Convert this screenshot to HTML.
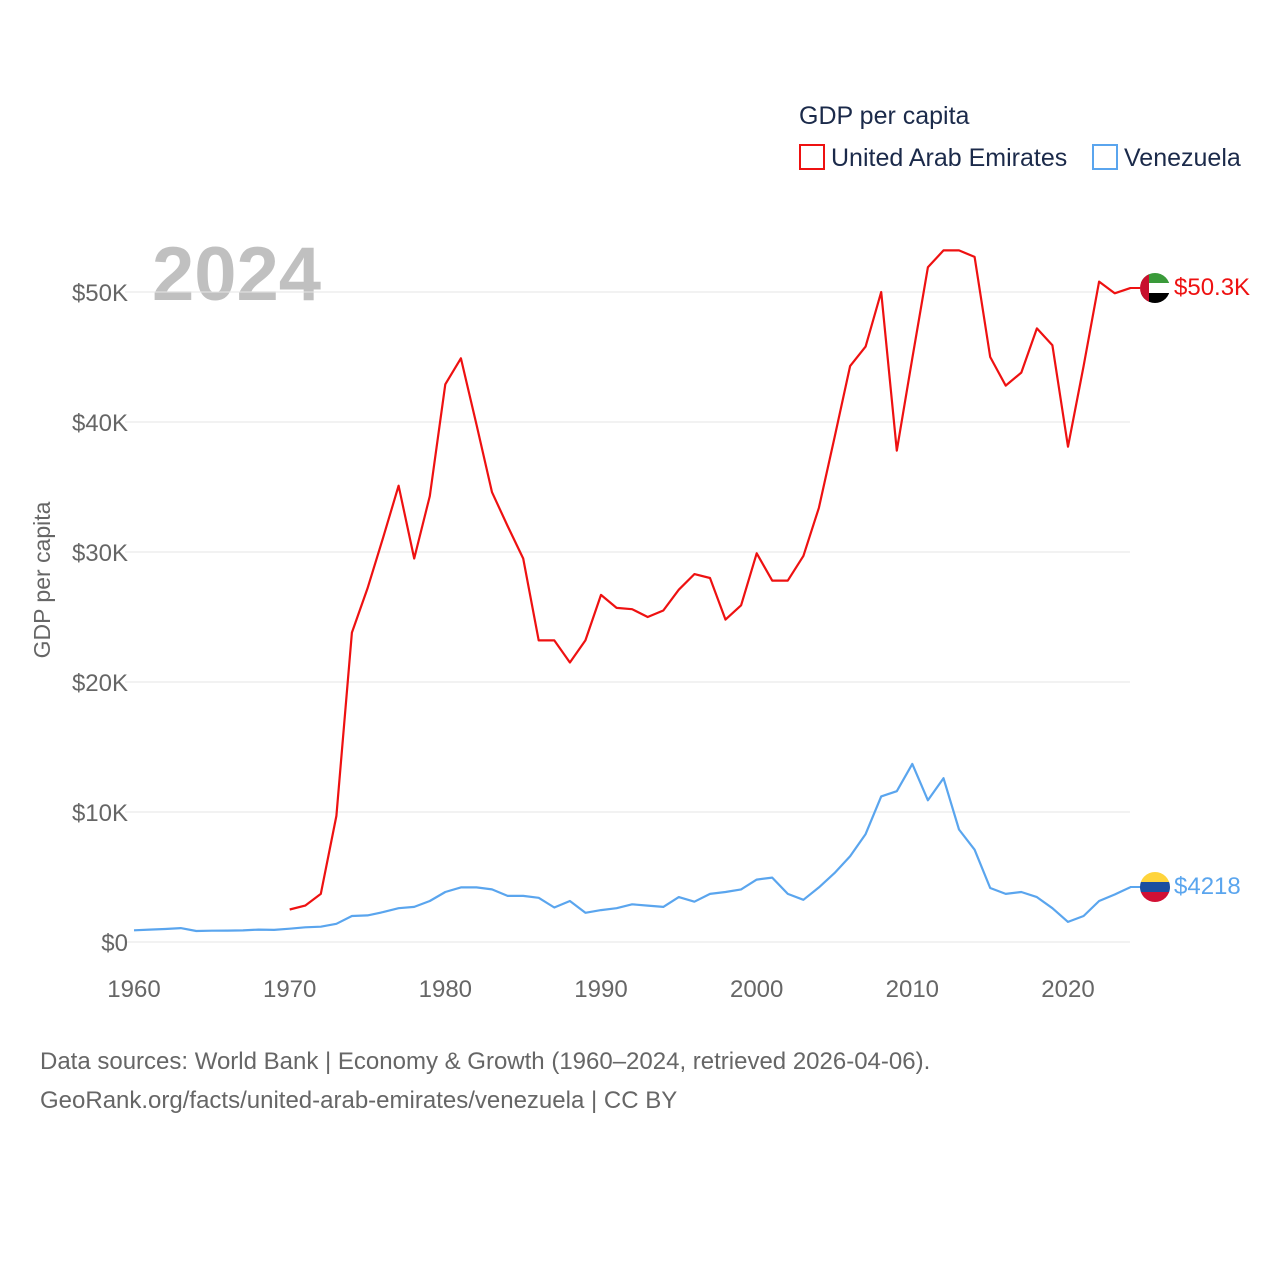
<!DOCTYPE html>
<html><head><meta charset="utf-8"><style>
html,body{margin:0;padding:0;background:#fff;}
svg{display:block;font-family:"Liberation Sans",sans-serif;}
</style></head><body>
<svg id="chart" width="1280" height="1280" viewBox="0 0 1280 1280">
<text x="799" y="124" font-size="25" fill="#1b2a4a">GDP per capita</text>
<rect x="800" y="145" width="24" height="24" fill="none" stroke="#ee1111" stroke-width="2"/>
<text x="831" y="166" font-size="25" fill="#1b2a4a">United Arab Emirates</text>
<rect x="1093" y="145" width="24" height="24" fill="none" stroke="#5aa5ee" stroke-width="2"/>
<text x="1124" y="166" font-size="25" fill="#1b2a4a">Venezuela</text>
<text x="152" y="300" font-size="76" font-weight="bold" fill="#c0c0c0">2024</text>
<text transform="translate(50,580) rotate(-90)" text-anchor="middle" font-size="23" fill="#666">GDP per capita</text>
<g id="grid"></g><g id="xt"></g><g id="series"></g>
<line x1="1130" y1="288" x2="1142" y2="288" stroke="#ee1111" stroke-width="2"/>
<line x1="1130" y1="887" x2="1142" y2="887" stroke="#5aa5ee" stroke-width="2"/>
<g>
<clipPath id="c1"><circle cx="1155" cy="288" r="15"/></clipPath>
<g clip-path="url(#c1)"><rect x="1140" y="273" width="30" height="10" fill="#3a9a3a"/><rect x="1140" y="283" width="30" height="10" fill="#fff"/><rect x="1140" y="293" width="30" height="10" fill="#000"/><rect x="1140" y="273" width="9" height="30" fill="#c8102e"/></g></g>
<text x="1174" y="295" font-size="24" fill="#ee1111">$50.3K</text>
<g>
<clipPath id="c2"><circle cx="1155" cy="887" r="15"/></clipPath>
<g clip-path="url(#c2)"><rect x="1140" y="872" width="30" height="10" fill="#ffd43b"/><rect x="1140" y="882" width="30" height="10" fill="#1c4fa0"/><rect x="1140" y="892" width="30" height="10" fill="#d21034"/></g></g>
<text x="1174" y="894" font-size="24" fill="#5aa5ee">$4218</text>
<text x="40" y="1069" font-size="24" fill="#666">Data sources: World Bank | Economy &amp; Growth (1960–2024, retrieved 2026-04-06).</text>
<text x="40" y="1108" font-size="24" fill="#666">GeoRank.org/facts/united-arab-emirates/venezuela | CC BY</text>
</svg>
<script>
const yTicks=[0,10000,20000,30000,40000,50000];
const yTickLabels=["$0","$10K","$20K","$30K","$40K","$50K"];
const xTicks=[1960,1970,1980,1990,2000,2010,2020];
const uaeStart=1970;
const uaeValues=[2.5,2.8,3.7,9.7,23.8,27.2,31.1,35.1,29.5,34.3,42.9,44.9,39.8,34.6,32.0,29.5,23.2,23.2,21.5,23.2,26.7,25.7,25.6,25.0,25.5,27.1,28.3,28.0,24.8,25.9,29.9,27.8,27.8,29.7,33.4,38.8,44.3,45.8,50.0,37.8,44.9,51.9,53.2,53.2,52.7,45.0,42.8,43.8,47.2,45.9,38.1,44.3,50.8,49.9,50.3];
const venStart=1960;
const venValues=[0.9,0.95,1.0,1.07,0.85,0.87,0.88,0.89,0.95,0.93,1.02,1.13,1.18,1.4,2.0,2.05,2.3,2.6,2.7,3.15,3.85,4.2,4.2,4.05,3.55,3.55,3.4,2.65,3.15,2.25,2.45,2.6,2.9,2.8,2.7,3.45,3.1,3.7,3.85,4.05,4.8,4.95,3.7,3.25,4.2,5.3,6.6,8.3,11.2,11.6,13.7,10.9,12.6,8.65,7.1,4.15,3.7,3.85,3.45,2.6,1.55,2.0,3.15,3.65,4.218];
const NS="http://www.w3.org/2000/svg";
const xs=y=>134+(y-1960)*(934/60);
const ys=v=>942-v*0.013;
function mk(tag,attrs,parent){const e=document.createElementNS(NS,tag);for(const k in attrs)e.setAttribute(k,attrs[k]);parent.appendChild(e);return e;}
const grid=document.getElementById('grid');
yTicks.forEach((t,i)=>{
 const l=mk('line',{x1:125,x2:1130,y1:ys(t),y2:ys(t),stroke:'#e6e6e6','stroke-width':1},grid);
 
 
 const tx=mk('text',{x:128,y:ys(t)+9,'text-anchor':'end','font-size':24,fill:'#666'},grid);
 tx.textContent=yTickLabels[i];
 
 
});
const xt=document.getElementById('xt');
xTicks.forEach(t=>{
 const tx=mk('text',{x:xs(t),y:997,'text-anchor':'middle','font-size':24,fill:'#666'},xt);
 tx.textContent=t;
 
 
});
const sg=document.getElementById('series');
function line(vals,start,color,name){
 const d=vals.map((v,i)=>(i?'L':'M')+xs(start+i).toFixed(1)+','+ys(v*1000).toFixed(1)).join('');
 const p=mk('path',{d:d,fill:'none',stroke:color,'stroke-width':2.2,'stroke-linejoin':'round'},sg);
 
 
}
line(venValues,venStart,'#5aa5ee','venezuela-line');
line(uaeValues,uaeStart,'#ee1111','uae-line');
</script>
</body></html>
